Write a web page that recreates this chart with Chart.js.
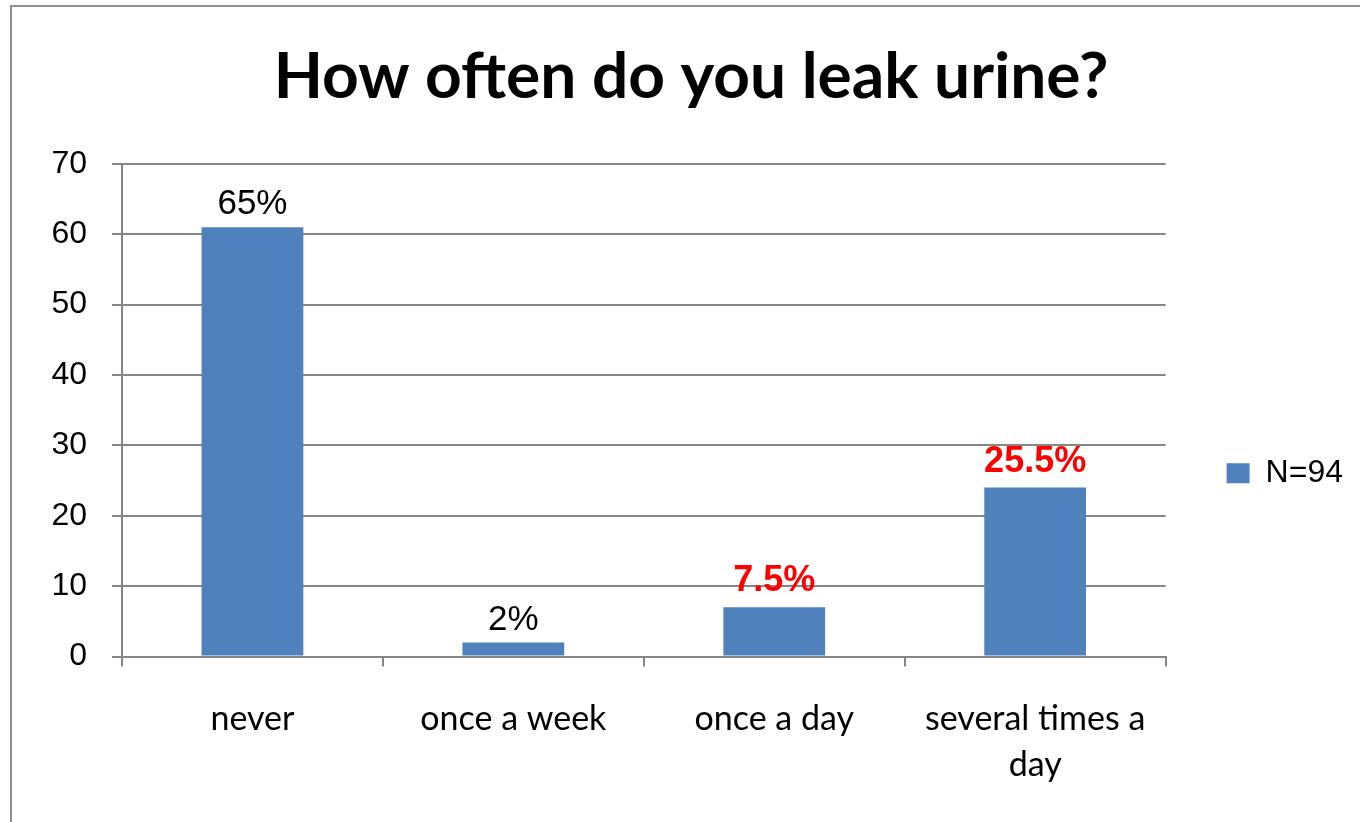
<!DOCTYPE html>
<html>
<head>
<meta charset="utf-8">
<script src="https://cdn.jsdelivr.net/npm/chart.js@4.4.1/dist/chart.umd.min.js"></script>
<style>
  html, body { margin: 0; padding: 0; background: #fff; overflow: hidden; width: 1360px; height: 822px; }
  #frame { position: absolute; left: 10px; top: 5px; width: 1400px; height: 900px;
           border-left: 2px solid #8e8e8e; border-top: 2px solid #8e8e8e; }
  #myChart { position: absolute; left: 29px; top: 0; }
</style>
</head>
<body>
<div id="frame"></div>
<canvas id="myChart" width="1324" height="822"></canvas>
<script>
// chart data
const categories = ['never', 'once a week', 'once a day', ['several times a', 'day']];
const counts = [61, 2, 7, 24];
const percentLabels = ['65%', '2%', '7.5%', '25.5%'];
const highlighted = [false, false, true, true];
const yTicks = [0, 10, 20, 30, 40, 50, 60, 70];
const seriesName = 'N=94';

const gridColor = '#868686';

// draws the percent text above each bar
const barLabels = {
  id: 'barLabels',
  afterDatasetsDraw(chart) {
    const ctx = chart.ctx;
    const meta = chart.getDatasetMeta(0);
    ctx.save();
    ctx.textAlign = 'center';
    ctx.textBaseline = 'bottom';
    meta.data.forEach((bar, i) => {
      if (highlighted[i]) {
        ctx.fillStyle = '#ff0000';
        ctx.font = 'bold 36px "Liberation Sans", Arial, sans-serif';
        ctx.fillText(percentLabels[i], bar.x, bar.y - 8);
      } else {
        ctx.fillStyle = '#000';
        ctx.font = '35px "Liberation Sans", Arial, sans-serif';
        ctx.fillText(percentLabels[i], bar.x, bar.y - 5);
      }
    });
    ctx.restore();
  }
};

const ctx = document.getElementById('myChart').getContext('2d');
const myChart = new Chart(ctx, {
  type: 'bar',
  data: {
    labels: categories,
    datasets: [{
      label: seriesName,
      data: counts,
      backgroundColor: '#4f81bd',
      borderWidth: 0,
      categoryPercentage: 1,
      barPercentage: 0.39
    }]
  },
  options: {
    responsive: false,
    animation: false,
    devicePixelRatio: 1,
    layout: { padding: { top: 0, left: 0, right: 0, bottom: 5 } },
    plugins: {
      title: {
        display: true,
        text: 'How often do you leak urine?',
        color: '#000',
        font: { family: 'Lato', size: 64, weight: 'bold', lineHeight: 1.2 },
        padding: { top: 39, bottom: 48 }
      },
      legend: {
        position: 'right',
        fullSize: false,
        title: { display: true, text: ' ', padding: { top: 57, bottom: 57 }, font: { size: 10 } },
        labels: {
          boxWidth: 23,
          boxHeight: 20,
          padding: 61,
          color: '#000',
          font: { family: '"Liberation Sans", Arial, sans-serif', size: 32 }
        }
      },
      tooltip: { enabled: false }
    },
    scales: {
      x: {
        offset: true,
        grid: { offset: true, drawOnChartArea: false, drawTicks: true, tickLength: 10, color: gridColor, lineWidth: 2 },
        border: { color: gridColor, width: 2 },
        ticks: {
          color: '#000',
          padding: 29,
          maxRotation: 0,
          autoSkip: false,
          font: { family: 'Lato', size: 34, lineHeight: 1.36 }
        }
      },
      y: {
        min: 0,
        max: 70,
        afterBuildTicks(scale) { scale.ticks = yTicks.map(v => ({ value: v })); },
        afterFit(scale) { scale.width = 93; },
        grid: { color: gridColor, lineWidth: 2, tickLength: 10 },
        border: { color: gridColor, width: 2 },
        ticks: {
          color: '#000',
          padding: 25,
          font: { family: '"Liberation Sans", Arial, sans-serif', size: 32 }
        }
      }
    }
  },
  plugins: [barLabels]
});
</script>
</body>
</html>
